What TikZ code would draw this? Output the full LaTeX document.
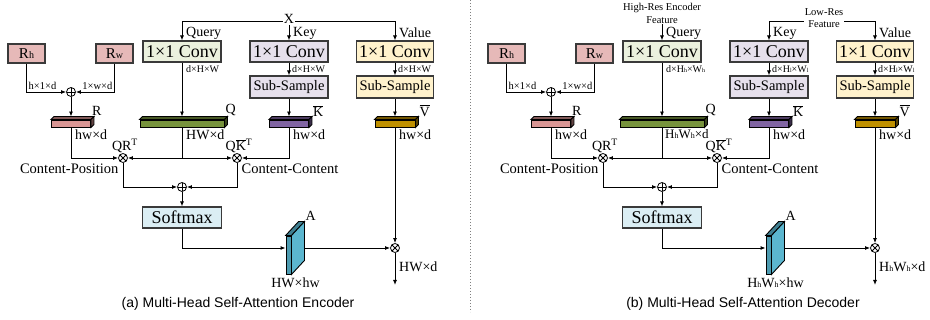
\documentclass[tikz,border=0pt]{standalone}
\usepackage{fontspec}
\setmainfont{Liberation Serif}
\setsansfont{Liberation Sans}
\usetikzlibrary{arrows.meta,calc}

\definecolor{posfill}{HTML}{E6B9B8}
\definecolor{qfill}{HTML}{EBF1DE}
\definecolor{kfill}{HTML}{E6E0EC}
\definecolor{vfill}{HTML}{FFF2CC}
\definecolor{sfill}{HTML}{DBEEF4}
\definecolor{rbar}{HTML}{D99694}
\definecolor{qbar}{HTML}{77933C}
\definecolor{kbar}{HTML}{8064A2}
\definecolor{vbar}{HTML}{BF9000}
\definecolor{abar}{HTML}{5BB6CF}
\definecolor{edge}{HTML}{3A3A3A}

% small letters sitting on the baseline (H_h, W_l, ...)
\newcommand{\sml}[2][6]{{\fontsize{#1}{#1}\selectfont #2}}
% top and side faces of a 3d bar: node, top fill, side fill, dx, dy
\newcommand{\barfaces}[5]{%
	\draw[line width=0.9pt, fill=#2] (#1.north west) -- ++(#4,#5) -- ($(#1.north east)+(#4,#5)$) -- (#1.north east) -- cycle;
	\draw[line width=0.9pt, fill=#3] (#1.north east) -- ++(#4,#5) -- ($(#1.south east)+(#4,#5)$) -- (#1.south east) -- cycle;}

\begin{document}
\begin{tikzpicture}[x=1pt, y=-1pt, >={Latex[length=5pt,width=4pt]}]

	\tikzstyle{box}=[draw=edge, line width=1.1pt, inner sep=0pt, minimum height=21]
	\tikzstyle{big}=[font=\fontsize{18}{18}\selectfont]
	\tikzstyle{mid}=[font=\fontsize{14.5}{14.5}\selectfont]
	\tikzstyle{bar}=[draw=black, line width=0.9pt, inner sep=0pt, minimum height=7]
	\tikzstyle{op}=[circle, draw, line width=0.8pt, inner sep=0pt, minimum size=9]
	\tikzstyle{addop}=[op, path picture={\draw (path picture bounding box.north) -- (path picture bounding box.south) (path picture bounding box.west) -- (path picture bounding box.east);}]
	\tikzstyle{mulop}=[op, path picture={\draw (path picture bounding box.north west) -- (path picture bounding box.south east) (path picture bounding box.south west) -- (path picture bounding box.north east);}]
	\tikzstyle{lbl}=[font=\fontsize{14}{14}\selectfont, inner sep=1pt]
	\tikzstyle{dim}=[font=\fontsize{10}{10}\selectfont, inner sep=1pt]
	\tikzstyle{link}=[line width=0.9pt]

	\useasboundingbox (0,0) rectangle (930,320);

	% both panels share the same skeleton
	\foreach \p/\s in {a/0, b/480} {
	\begin{scope}[xshift=\s pt]
		\node[box, fill=posfill, minimum width=37, minimum height=19, font=\fontsize{15}{15}\selectfont] (\p_rh) at (26.5,53.5) {R\sml[10]{h}}; % POSITION
		\node[box, fill=posfill, minimum width=37, minimum height=19, font=\fontsize{15}{15}\selectfont] (\p_rw) at (114.5,53.5) {R\sml[10]{w}}; % POSITION
		\node[addop] (\p_add) at (71,92) {};
		\node[bar, fill=rbar, minimum width=39] (\p_r) at (71,123.5) {};

		\node[box, big, fill=qfill, minimum width=78] (\p_qconv) at (182,51.5) {1×1 Conv}; % QUERY
		\node[box, big, fill=kfill, minimum width=78] (\p_kconv) at (289,51.5) {1×1 Conv}; % KEY
		\node[box, big, fill=vfill, minimum width=77] (\p_vconv) at (395,51.5) {1×1 Conv}; % VALUE
		\node[box, mid, fill=kfill, minimum width=78, minimum height=22] (\p_ksub) at (289,87) {Sub-Sample};
		\node[box, mid, fill=vfill, minimum width=77, minimum height=22] (\p_vsub) at (395,87) {Sub-Sample};
		\node[bar, fill=qbar, minimum width=84] (\p_q) at (182,123.5) {};
		\node[bar, fill=kbar, minimum width=39] (\p_k) at (289,123.5) {};
		\node[bar, fill=vbar, minimum width=40] (\p_v) at (395,123.5) {};
		\barfaces{\p_r}{rbar!60!black}{rbar!45!black}{3}{-3}
		\barfaces{\p_q}{qbar!60!black}{qbar!45!black}{3}{-3}
		\barfaces{\p_k}{kbar!60!black}{kbar!45!black}{3}{-3}
		\barfaces{\p_v}{vbar!60!black}{vbar!45!black}{3}{-3}

		\node[mulop] (\p_mqr) at (123,158) {};
		\node[mulop] (\p_mqk) at (237,158) {};
		\node[addop] (\p_sum) at (182,187) {};
		\node[box, big, fill=sfill, minimum width=79] (\p_soft) at (182,217.5) {Softmax};
		\node[bar, fill=abar!85!black, minimum width=5, minimum height=38] (\p_att) at (288.5,255) {};
		\barfaces{\p_att}{abar!70!black}{abar}{13}{-14}
		\coordinate (\p_aout) at (304,248);
		\node[mulop] (\p_mav) at (395,248) {};
		\coordinate (\p_out) at (395,285);

		\node[lbl, anchor=west] (\p_qlab) at (185,33) {Query};
		\node[lbl, anchor=west] (\p_klab) at (292,33) {Key};
		\node[lbl, anchor=west] (\p_vlab) at (398,33) {Value};
		\node[lbl, anchor=south west] (\p_rlab) at ($(\p_r.north east)+(0,-3)$) {R};
		\node[lbl, anchor=south west] (\p_qblab) at ($(\p_q.north east)+(0,-3)$) {Q};
		\node[lbl, anchor=south west] (\p_kblab) at ($(\p_k.north east)+(3,-2)$) {$\overline{\hbox{K}}$};
		\node[lbl, anchor=south west] (\p_vblab) at ($(\p_v.north east)+(3,-2)$) {$\overline{\hbox{V}}$};
		\node[lbl, anchor=north west] (\p_rdim) at ($(\p_r.south)+(3,1)$) {hw×d};
		\node[lbl, anchor=north west] (\p_kdim) at ($(\p_k.south)+(3,1)$) {hw×d};
		\node[lbl, anchor=north west] (\p_vdim) at ($(\p_v.south)+(3,1)$) {hw×d};
		\node[lbl, anchor=south] (\p_qrt) at ($(\p_mqr.north)+(2,1)$) {QR\textsuperscript{T}};
		\node[lbl, anchor=south] (\p_qkt) at ($(\p_mqk.north)+(2,1)$) {Q$\overline{\hbox{K}}$\textsuperscript{T}};
		\node[mid, anchor=north east, inner sep=1pt] (\p_cp) at ($(\p_mqr.south west)+(0,1)$) {Content-Position};
		\node[mid, anchor=north west, inner sep=1pt] (\p_cc) at ($(\p_mqk.south east)+(0,1)$) {Content-Content};
		\node[lbl, anchor=south west] (\p_alab) at ($(\p_att.north east)+(13,-14)$) {A};

		\node[dim, font=\fontsize{10.5}{10.5}\selectfont, anchor=south west] (\p_hdim) at ($(\p_rh.south)+(1,27)$) {h×1×d};
		\node[dim, font=\fontsize{10.5}{10.5}\selectfont, anchor=south east] (\p_wdim) at ($(\p_rw.south)+(-1,27)$) {1×w×d};

		\draw[link,->] (\p_rh.south) |- (\p_add);
		\draw[link,->] (\p_rw.south) |- (\p_add);
		\draw[link,->] (\p_add) -- ([yshift=3pt]\p_r.north);
		\draw[link,->] (\p_qconv) -- ([yshift=3pt]\p_q.north);
		\draw[link,->] (\p_kconv) -- (\p_ksub);
		\draw[link,->] (\p_vconv) -- (\p_vsub);
		\draw[link,->] (\p_ksub) -- ([yshift=3pt]\p_k.north);
		\draw[link,->] (\p_vsub) -- ([yshift=3pt]\p_v.north);
		\draw[link,->] (\p_r.south) |- (\p_mqr);
		\draw[link,->] (\p_q.south) |- (\p_mqr);
		\draw[link,->] (\p_q.south) |- (\p_mqk);
		\draw[link,->] (\p_k.south) |- (\p_mqk);
		\draw[link,->] (\p_mqr) |- (\p_sum);
		\draw[link,->] (\p_mqk) |- (\p_sum);
		\draw[link,->] (\p_sum) -- (\p_soft);
		\draw[link,->] (\p_soft.south) |- ([yshift=7pt]\p_att.west);
		\draw[link,->] (\p_aout) -- (\p_mav);
		\draw[link,->] (\p_v.south) -- (\p_mav);
		\draw[link,->] (\p_mav) -- (\p_out);
	\end{scope}
	}

	% (a) encoder: one input X
	\node[lbl] (a_x) at (289,19) {X};
	\draw[link,->] ([yshift=-2pt]a_x.west) -| (a_qconv);
	\draw[link,->] (a_x) -- (a_kconv);
	\draw[link,->] ([yshift=-2pt]a_x.east) -| (a_vconv);
	\node[dim, anchor=north west] (a_qd) at ($(a_qconv.south)+(3,2)$) {d×H×W};
	\node[dim, anchor=west] (a_kd) at ($(a_kconv.south)!0.5!(a_ksub.north)+(2,0)$) {d×H×W};
	\node[dim, anchor=west] (a_vd) at ($(a_vconv.south)!0.5!(a_vsub.north)+(2,0)$) {d×H×W};
	\node[lbl, anchor=north west] (a_qdim) at ($(a_q.south)+(3,1)$) {HW×d};
	\node[lbl, anchor=north] (a_adim) at ($(a_att.south)+(7,2)$) {HW×hw};
	\node[lbl, anchor=west] (a_odim) at ($(a_mav)!0.5!(a_out)+(3,0)$) {HW×d};

	% (b) decoder: high-res query, low-res key and value
	\node[dim, align=center, font=\fontsize{10.5}{13}\selectfont] (b_hr) at (662,13) {High-Res Encoder\\Feature};
	\draw[link,->] (b_hr) -- (b_qconv);
	\node[dim, align=center, font=\fontsize{10.5}{12}\selectfont] (b_lr) at (824,18) {Low-Res\\Feature};
	\draw[link,->] ([yshift=-3pt]b_lr.west) -| (b_kconv);
	\draw[link,->] ([yshift=-3pt]b_lr.east) -| (b_vconv);
	\node[dim, anchor=north west] (b_qd) at ($(b_qconv.south)+(3,2)$) {d×H\sml{h}×W\sml{h}};
	\node[dim, anchor=west] (b_kd) at ($(b_kconv.south)!0.5!(b_ksub.north)+(2,0)$) {d×H\sml{l}×W\sml{l}};
	\node[dim, anchor=west] (b_vd) at ($(b_vconv.south)!0.5!(b_vsub.north)+(2,0)$) {d×H\sml{l}×W\sml{l}};
	\node[lbl, anchor=north west, font=\fontsize{13}{13}\selectfont] (b_qdim) at ($(b_q.south)+(2,1)$) {H\sml[8]{h}W\sml[8]{h}×d};
	\node[lbl, anchor=north] (b_adim) at ($(b_att.south)+(7,2)$) {H\sml[8]{h}W\sml[8]{h}×hw};
	\node[lbl, anchor=west] (b_odim) at ($(b_mav)!0.5!(b_out)+(3,0)$) {H\sml[8]{h}W\sml[8]{h}×d};

	\draw[dotted, gray, line width=1pt] (470,0) -- (470,312);

	\node[font=\sffamily\fontsize{14}{14}\selectfont] (a_cap) at (238,304) {(a) Multi-Head Self-Attention Encoder};
	\node[font=\sffamily\fontsize{14}{14}\selectfont] (b_cap) at (743,304) {(b) Multi-Head Self-Attention Decoder};
\end{tikzpicture}
\end{document}
